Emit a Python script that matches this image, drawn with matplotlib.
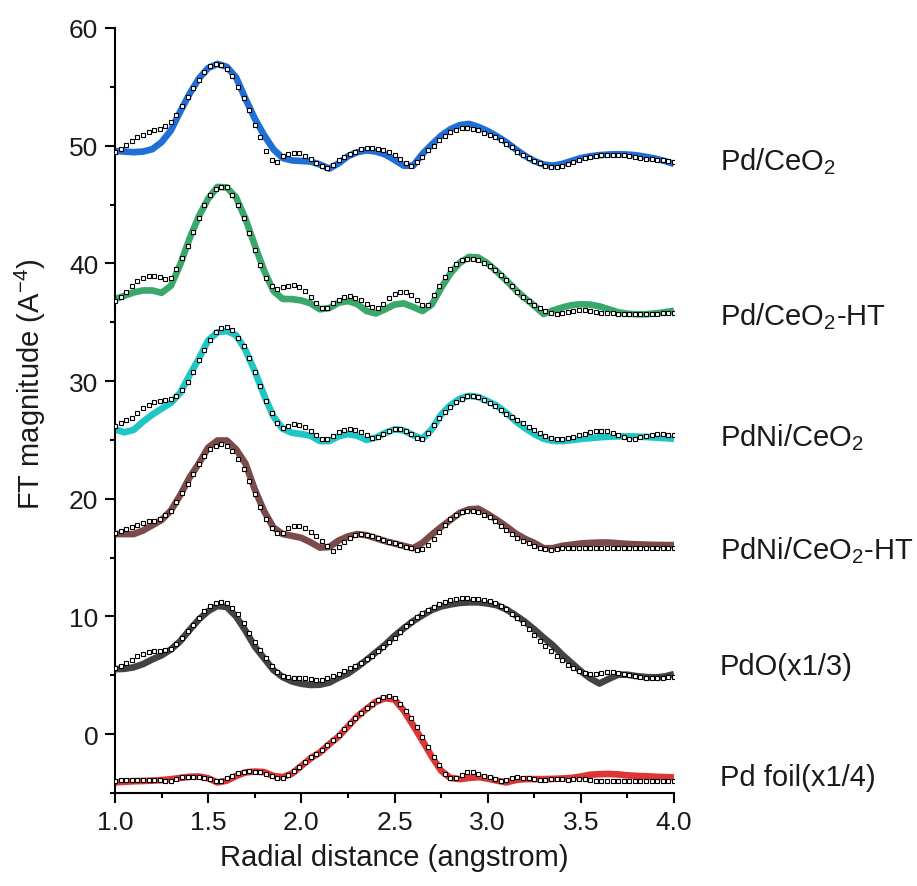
import numpy as np
import matplotlib
matplotlib.use("Agg")
import matplotlib.pyplot as plt
from matplotlib.ticker import MultipleLocator

plt.rcParams['font.family'] = ['Liberation Sans', 'DejaVu Sans']
plt.rcParams['mathtext.default'] = 'regular'

# x grids (angstrom)
x_line = np.round(np.arange(1.00, 4.0001, 0.05), 2)
x_mark = np.round(np.arange(1.00, 4.0001, 0.03), 2)

labels = ['Pd/CeO$_2$', 'Pd/CeO$_2$-HT', 'PdNi/CeO$_2$', 'PdNi/CeO$_2$-HT', 'PdO(x1/3)', 'Pd foil(x1/4)']
colors = ['#1f6fd6', '#3aa86b', '#1fc6c6', '#7b4b4b', '#434343', '#e03535']
label_y = [48.7, 35.6, 25.3, 15.7, 5.8, -3.65]

# ---------- Pd/CeO2 ----------
pdceo2_line = [49.55, 49.5, 49.45, 49.5, 49.7, 50.3, 51.3, 52.9, 54.4, 55.7, 56.6, 56.95, 56.7, 55.8, 54.0,
               52.3, 50.9, 49.7, 48.95, 48.75, 48.7, 48.65, 48.4, 48.05, 48.5, 49.1, 49.45, 49.6, 49.5, 49.25,
               48.8, 48.3, 48.3, 49.3, 50.1, 50.85, 51.4, 51.75, 51.85, 51.6, 51.25, 50.8, 50.3, 49.7, 49.15,
               48.7, 48.4, 48.3, 48.45, 48.7, 48.95, 49.1, 49.2, 49.25, 49.28, 49.25, 49.18, 49.05, 48.9, 48.7,
               48.45]
pdceo2_mark = [49.45, 49.7, 50.05, 50.4, 50.7, 50.95, 51.15, 51.3, 51.45, 51.65, 52.05, 52.6, 53.4, 54.1,
               54.9, 55.6, 56.3, 56.75, 56.9, 56.88, 56.55, 55.9, 55.0, 54.05, 53.0, 51.8, 50.7, 49.56, 48.75,
               48.6, 49.1, 49.3, 49.4, 49.35, 49.15, 48.85, 48.5, 48.25, 48.1, 48.35, 48.75, 49.05, 49.3, 49.5,
               49.7, 49.78, 49.8, 49.75, 49.6, 49.45, 49.2, 48.9, 48.55, 48.3, 48.6, 49.05, 49.6, 50.0, 50.45,
               50.85, 51.15, 51.35, 51.5, 51.52, 51.45, 51.3, 51.1, 50.9, 50.75, 50.45, 50.15, 49.85, 49.5,
               49.2, 48.95, 48.72, 48.5, 48.3, 48.18, 48.15, 48.25, 48.45, 48.65, 48.8, 48.95, 49.05, 49.15,
               49.2, 49.2, 49.2, 49.2, 49.18, 49.12, 49.05, 48.98, 48.9, 48.85, 48.8, 48.77, 48.7, 48.6]

# ---------- Pd/CeO2-HT ----------
pdceo2ht_line = [36.96, 37.25, 37.53, 37.7, 37.7, 37.5, 38.1, 39.9, 42.1, 44.0, 45.5, 46.5, 46.45, 45.6,
                 43.8, 41.55, 39.4, 37.66, 36.98, 36.96, 36.85, 36.6, 36.1, 36.2, 36.65, 36.8, 36.55, 35.95,
                 35.75, 36.1, 36.5, 36.6, 36.3, 35.95, 36.5, 37.9, 39.15, 40.05, 40.55, 40.5, 40.0, 39.3, 38.55,
                 37.75, 37.05, 36.4, 35.7, 36.0, 36.25, 36.45, 36.53, 36.5, 36.35, 36.1, 35.85, 35.72, 35.68,
                 35.68, 35.75, 35.85, 35.97]
pdceo2ht_mark = [36.8, 37.15, 37.55, 38.1, 38.5, 38.8, 38.97, 38.97, 38.85, 38.7, 38.8, 39.5, 40.45, 41.45,
                 42.7, 43.85, 44.95, 45.85, 46.35, 46.5, 46.45, 45.85, 44.95, 43.85, 42.55, 41.1, 39.85, 38.8,
                 38.05, 37.85, 37.98, 38.1, 38.2, 38.0, 37.65, 37.15, 36.6, 36.2, 36.2, 36.6, 36.9, 37.15, 37.25,
                 37.1, 36.85, 36.55, 36.3, 36.2, 36.55, 37.05, 37.4, 37.55, 37.55, 37.3, 36.9, 36.45, 36.5, 37.3,
                 38.05, 38.85, 39.5, 39.95, 40.25, 40.4, 40.4, 40.3, 40.05, 39.75, 39.4, 39.0, 38.55, 38.05,
                 37.6, 37.15, 36.8, 36.5, 36.25, 35.95, 35.75, 35.68, 35.75, 35.87, 35.95, 36.0, 36.0, 35.95,
                 35.85, 35.8, 35.77, 35.75, 35.72, 35.7, 35.7, 35.7, 35.7, 35.7, 35.72, 35.72, 35.75, 35.8, 35.82]

# ---------- PdNi/CeO2 ----------
pdnice_line = [25.9, 25.65, 25.85, 26.55, 27.15, 27.65, 28.15, 29.0, 30.5, 31.9, 33.45, 34.15, 34.25, 33.9,
               32.65, 30.85, 28.8, 27.0, 25.95, 25.6, 25.5, 25.35, 24.9, 24.9, 25.3, 25.5, 25.35, 25.0, 25.2,
               25.6, 25.9, 25.8, 25.4, 25.1, 25.9, 27.15, 27.95, 28.5, 28.75, 28.65, 28.3, 27.9, 27.3, 26.6,
               26.0, 25.5, 25.1, 24.92, 24.9, 24.98, 25.08, 25.15, 25.22, 25.28, 25.3, 25.3, 25.29, 25.25, 25.2,
               25.15, 25.1]
pdnice_mark = [26.2, 26.45, 26.68, 26.88, 27.3, 27.7, 28.0, 28.25, 28.33, 28.42, 28.46, 28.72, 29.25, 29.9,
               30.8, 31.75, 32.65, 33.5, 34.13, 34.55, 34.63, 34.35, 33.7, 32.95, 31.95, 30.75, 29.55, 28.3,
               27.25, 26.4, 26.05, 26.2, 26.32, 26.28, 26.1, 25.8, 25.42, 25.12, 25.08, 25.35, 25.7, 25.85,
               25.92, 25.85, 25.67, 25.38, 25.17, 25.22, 25.5, 25.8, 25.97, 25.92, 25.72, 25.48, 25.2, 25.12,
               25.55, 26.3, 26.9, 27.35, 27.8, 28.2, 28.5, 28.7, 28.75, 28.62, 28.4, 28.15, 27.85, 27.55, 27.22,
               26.95, 26.72, 26.4, 26.12, 25.82, 25.55, 25.33, 25.2, 25.12, 25.12, 25.18, 25.27, 25.38, 25.52,
               25.66, 25.75, 25.77, 25.72, 25.62, 25.46, 25.26, 25.08, 25.1, 25.22, 25.34, 25.44, 25.49, 25.49,
               25.45, 25.4]

# ---------- PdNi/CeO2-HT ----------
pdniceht_line = [17.0, 17.0, 17.0, 17.3, 17.75, 18.2, 19.0, 20.3, 21.8, 23.0, 24.35, 24.95, 24.95, 24.2,
                 23.0, 20.8, 18.95, 17.56, 17.0, 16.85, 16.68, 16.3, 15.85, 15.9, 16.45, 16.8, 17.0, 16.9, 16.65,
                 16.4, 16.2, 16.0, 15.8, 16.25, 16.95, 17.6, 18.2, 18.8, 19.1, 19.15, 18.7, 18.2, 17.65, 17.05,
                 16.6, 16.25, 15.8, 15.8, 16.0, 16.1, 16.2, 16.25, 16.28, 16.28, 16.22, 16.16, 16.13, 16.1,
                 16.08, 16.07, 16.06]
pdniceht_mark = [17.05, 17.22, 17.42, 17.6, 17.8, 17.96, 18.08, 18.13, 18.3, 18.6, 18.95, 19.75, 20.45,
                 21.25, 22.1, 22.92, 23.62, 24.2, 24.52, 24.64, 24.5, 24.05, 23.38, 22.55, 21.5, 20.42, 19.33,
                 18.32, 17.52, 17.1, 17.12, 17.48, 17.68, 17.66, 17.48, 17.2, 16.85, 16.42, 15.95, 15.6, 15.9,
                 16.35, 16.7, 16.93, 17.0, 16.95, 16.85, 16.68, 16.5, 16.32, 16.25, 16.06, 15.94, 15.78, 15.66,
                 15.72, 16.1, 16.6, 17.2, 17.8, 18.25, 18.62, 18.87, 18.97, 18.96, 18.85, 18.65, 18.44, 18.08,
                 17.7, 17.35, 16.98, 16.66, 16.42, 16.2, 16.0, 15.8, 15.72, 15.66, 15.76, 15.82, 15.82, 15.82,
                 15.82, 15.8, 15.8, 15.8, 15.8, 15.8, 15.8, 15.8, 15.8, 15.8, 15.8, 15.8, 15.8, 15.8, 15.8,
                 15.8, 15.8, 15.8]

# ---------- PdO (x1/3) ----------
pdo_line = [5.52, 5.55, 5.68, 5.95, 6.35, 6.7, 7.2, 7.9, 8.85, 9.75, 10.45, 10.9, 10.8, 10.0, 8.8, 7.45,
            6.45, 5.45, 4.85, 4.48, 4.28, 4.18, 4.2, 4.38, 4.8, 5.15, 5.7, 6.3, 6.95, 7.6, 8.35, 9.0, 9.6, 10.1,
            10.55, 10.85, 11.02, 11.15, 11.2, 11.2, 11.1, 10.95, 10.6, 10.1, 9.55, 8.9, 8.2, 7.55, 6.75, 6.05,
            5.35, 4.75, 4.3, 4.7, 5.05, 5.05, 4.93, 4.85, 4.82, 4.9, 5.1]
pdo_mark = [5.6, 5.78, 6.05, 6.32, 6.6, 6.85, 7.02, 7.08, 7.1, 7.17, 7.25, 7.62, 8.18, 8.75, 9.27, 9.9, 10.5,
            10.9, 11.15, 11.24, 11.12, 10.75, 10.18, 9.47, 8.62, 7.82, 7.12, 6.46, 5.76, 5.28, 4.95, 4.83, 4.8,
            4.78, 4.76, 4.7, 4.62, 4.63, 4.76, 4.9, 5.1, 5.36, 5.58, 5.8, 6.08, 6.37, 6.68, 7.05, 7.4, 7.8,
            8.18, 8.65, 9.17, 9.56, 9.95, 10.3, 10.56, 10.82, 11.02, 11.23, 11.36, 11.48, 11.53, 11.53, 11.52,
            11.46, 11.4, 11.3, 11.15, 10.9, 10.6, 10.25, 9.85, 9.42, 8.9, 8.4, 7.93, 7.48, 7.06, 6.62, 6.26,
            5.88, 5.58, 5.35, 5.18, 5.11, 5.12, 5.2, 5.27, 5.28, 5.22, 5.13, 5.03, 4.92, 4.85, 4.81, 4.81,
            4.81, 4.81, 4.82, 4.87]

# ---------- Pd foil (x1/4) ----------
pdfoil_line = [-4.1, -4.05, -4.0, -3.98, -3.95, -3.9, -3.83, -3.72, -3.62, -3.6, -3.75, -4.1, -3.95, -3.55,
               -3.25, -3.18, -3.22, -3.55, -3.65, -3.35, -2.7, -2.05, -1.55, -0.85, -0.2, 0.65, 1.5, 2.15, 2.75,
               3.05, 2.95, 2.0, 0.75, -0.55, -1.9, -3.1, -3.72, -3.82, -3.72, -3.65, -3.78, -3.95, -4.1, -3.9,
               -3.82, -3.82, -3.82, -3.8, -3.77, -3.72, -3.6, -3.45, -3.4, -3.38, -3.42, -3.5, -3.55, -3.58,
               -3.62, -3.65, -3.68]
pdfoil_mark = [-3.98, -3.92, -3.88, -3.88, -3.88, -3.88, -3.88, -3.88, -3.9, -3.94, -3.95, -3.8, -3.66, -3.6,
               -3.6, -3.6, -3.69, -3.85, -3.96, -3.95, -3.76, -3.53, -3.3, -3.2, -3.17, -3.2, -3.25, -3.38,
               -3.58, -3.72, -3.72, -3.45, -3.1, -2.75, -2.37, -1.95, -1.68, -1.35, -0.9, -0.52, -0.05, 0.45,
               0.94, 1.35, 1.76, 2.18, 2.58, 2.9, 3.12, 3.2, 3.05, 2.6, 2.0, 1.4, 0.62, -0.25, -1.1, -1.95,
               -2.65, -3.35, -3.72, -3.72, -3.45, -3.25, -3.22, -3.35, -3.52, -3.68, -3.85, -3.95, -3.88, -3.76,
               -3.68, -3.7, -3.75, -3.82, -3.87, -3.88, -3.85, -3.82, -3.85, -3.88, -3.85, -3.82, -3.85, -3.92,
               -3.96, -3.96, -3.98, -4.0, -4.0, -4.0, -4.02, -4.02, -4.0, -4.0, -4.02, -4.02, -4.02, -4.02, -4.0]

lines = [pdceo2_line, pdceo2ht_line, pdnice_line, pdniceht_line, pdo_line, pdfoil_line]
marks = [pdceo2_mark, pdceo2ht_mark, pdnice_mark, pdniceht_mark, pdo_mark, pdfoil_mark]

fig = plt.figure(figsize=(9.17, 8.87), dpi=100)
ax = fig.add_axes([115/917, 1 - 794/887, 559/917, 765/887])

for yl, ym, c, lab, ly in zip(lines, marks, colors, labels, label_y):
    ax.plot(x_line, yl, color=c, lw=4.8, solid_capstyle='butt', zorder=2)
    ax.plot(x_mark, ym, ls='none', marker='s', ms=3.4, mfc='white', mec='black', mew=0.8, zorder=3)
    ax.text(4.245, ly, lab, fontsize=21, ha='left', va='center', clip_on=False, color='#1a1a1a')

ax.set_xlim(1.0, 4.0)
ax.set_ylim(-5, 60)
ax.xaxis.set_minor_locator(MultipleLocator(0.25))
ax.yaxis.set_minor_locator(MultipleLocator(5))
xt = [1.0, 1.5, 2.0, 2.5, 3.0, 3.5, 4.0]
ax.set_xticks(xt)
ax.set_xticklabels([f'{v:.1f}' for v in xt])
ax.set_yticks([0, 10, 20, 30, 40, 50, 60])

for s in ['top', 'right']:
    ax.spines[s].set_visible(False)
for s in ['left', 'bottom']:
    ax.spines[s].set_linewidth(1.5)

ax.tick_params(which='major', direction='out', length=7, width=1.5, labelsize=19, pad=5,
               labelcolor='#1a1a1a')
ax.tick_params(which='minor', direction='out', length=3.5, width=1.5)

ax.set_xlabel('Radial distance (angstrom)', fontsize=21, labelpad=7, color='#1a1a1a')
ax.set_ylabel('FT magnitude (A$^{-4}$)', fontsize=21, color='#1a1a1a')
ax.yaxis.label.set_va('center')
ax.yaxis.set_label_coords(-0.152, 0.535)

fig.savefig('out.png', dpi=100)
